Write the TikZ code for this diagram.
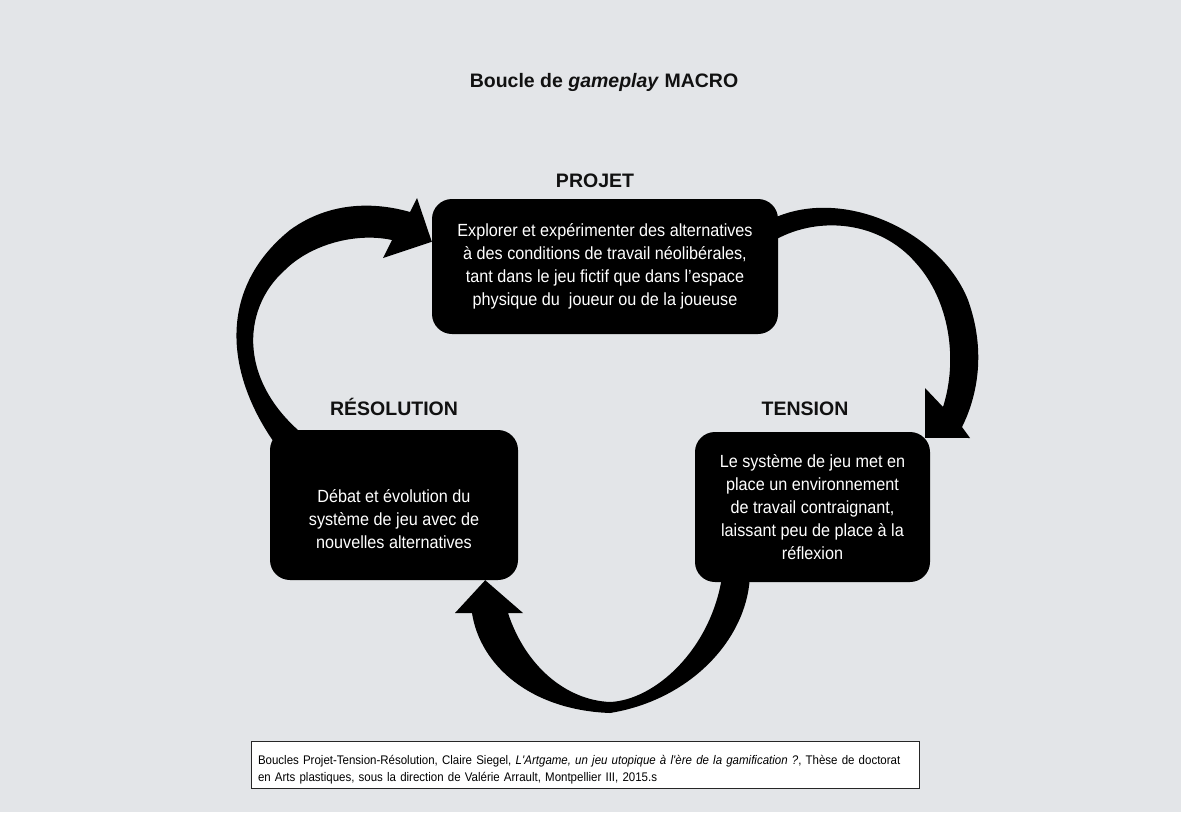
\documentclass[tikz,border=0pt]{standalone}
\usepackage{fontspec}
\setmainfont{Liberation Sans}
\newfontfamily\boxfont{Liberation Sans}[FakeStretch=0.92]
\usetikzlibrary{positioning}
\definecolor{paperc}{HTML}{E3E5E8}
\definecolor{headc}{HTML}{111111}

\tikzset{
  stagebox/.style={fill=black, text=white, rounded corners=20pt, align=center,
    inner sep=0pt, font=\boxfont\fontsize{17.6}{23}\selectfont},
  stagehead/.style={anchor=base, text=headc, font=\fontsize{19.5}{22}\selectfont\bfseries},
  citebox/.style={draw=black!85, line width=0.7pt, fill=white, align=left,
    minimum width=666pt, minimum height=47pt, text width=654pt, inner xsep=7pt,
    inner ysep=2pt, font=\boxfont\fontsize{12.5}{17.5}\selectfont},
  loopfill/.style={fill=black},
}

\begin{document}
\begin{tikzpicture}[x=1pt, y=-1pt]
  \useasboundingbox (0,0) rectangle (1181,812);
  \fill[paperc] (0,0) rectangle (1181,812);

  % title and stage labels
  \node[stagehead] (title) at (604,87) {Boucle de \textit{gameplay} MACRO};
  \node[stagehead] (projethead) at (595,187) {PROJET};
  \node[stagehead] (resolhead) at (394,415) {RÉSOLUTION};
  \node[stagehead] (tensionhead) at (805,415) {TENSION};

  % stage boxes
  \node[stagebox, minimum width=346pt, minimum height=135pt] (projet) at (605,266.5)
    {Explorer et expérimenter des alternatives\\
     à des conditions de travail néolibérales,\\
     tant dans le jeu fictif que dans l’espace\\
     physique du~ joueur ou de la joueuse};
  \node[stagebox, minimum width=248pt, minimum height=150pt] (resolution) at (394,505)
    {\mbox{}\\[18pt]
     Débat et évolution du\\
     système de jeu avec de\\
     nouvelles alternatives};
  \node[stagebox, minimum width=235pt, minimum height=150pt] (tension) at (812.5,507)
    {Le système de jeu met en\\
     place un environnement\\
     de travail contraignant,\\
     laissant peu de place à la\\
     réflexion};

  % loop arrows
  \fill[loopfill] ([xshift=6pt,yshift=-15pt]resolution.north west)
    .. controls (226,375) and (216,290) .. (290,230)
    .. controls (330,201) and (375,202) .. (410,212)
    -- (417,198) -- ([yshift=-43pt]projet.north west) -- (383,258) -- (392,240)
    .. controls (355,232) and (310,245) .. (285,270)
    .. controls (240,310) and (238,385) .. ([xshift=40pt,yshift=-10pt]resolution.north west)
    -- cycle;
  \fill[loopfill] ([xshift=-8pt,yshift=-21pt]projet.north east)
    .. controls (840,185) and (940,230) .. (968,300)
    .. controls (986,350) and (978,395) .. (962,427)
    -- (970,438) -- ([xshift=-5pt,yshift=-6pt]tension.north east) -- (925,388) -- (943,407)
    .. controls (958,360) and (950,300) .. (915,262)
    .. controls (880,222) and (820,215) .. ([xshift=-3pt,yshift=-41pt]projet.north east)
    -- cycle;
  \fill[loopfill] ([xshift=55pt,yshift=4pt]tension.south west)
    .. controls (746,640) and (690,700) .. (610,713)
    .. controls (530,710) and (480,665) .. (472,613)
    -- (455,613) -- ([xshift=-33pt]resolution.south east) -- (523,613) -- (508,613)
    .. controls (525,665) and (565,700) .. (610,702)
    .. controls (655,700) and (710,650) .. ([xshift=27pt,yshift=4pt]tension.south west)
    -- cycle;

  % source
  \node[citebox] (source) at (585,764.5)
    {\rule{0pt}{20pt}Boucles Projet-Tension-Résolution, Claire Siegel, \textit{L\textquotesingle Artgame, un jeu utopique à l\textquotesingle ère de la gamification ?}, Thèse de doctorat\\
     en Arts plastiques, sous la direction de Valérie Arrault, Montpellier III, 2015.s};
\end{tikzpicture}
\end{document}
